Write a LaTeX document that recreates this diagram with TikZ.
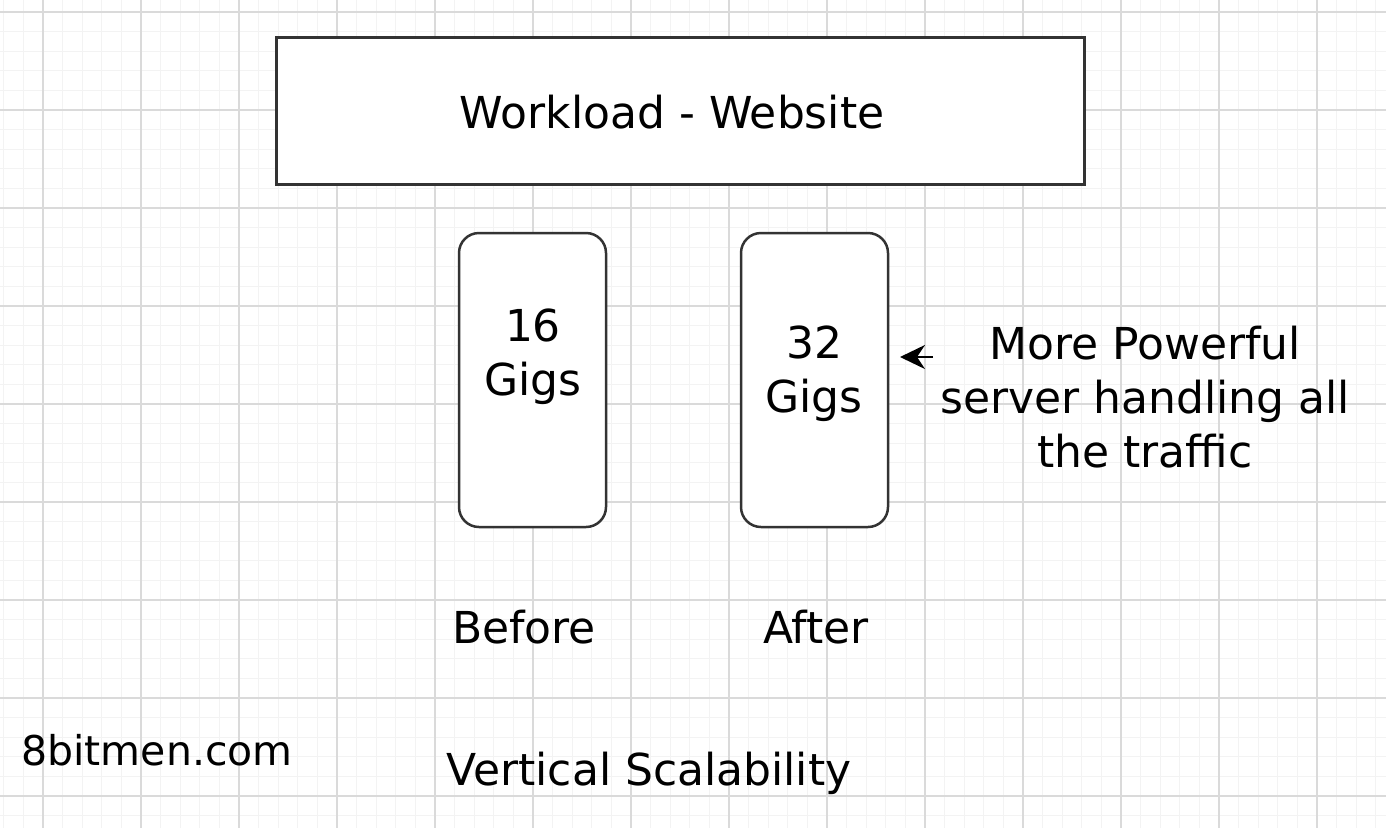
\documentclass[tikz,border=0pt]{standalone}
\usepackage{fontspec}
\setmainfont{DejaVu Sans}
\usetikzlibrary{arrows.meta}
\definecolor{minorgrid}{HTML}{F3F3F3}
\definecolor{majorgrid}{HTML}{DADADA}
\definecolor{boxline}{HTML}{333333}
\tikzset{
  bigbox/.style={draw=boxline, line width=3pt, minimum width=808pt, minimum height=147pt, inner sep=0pt},
  serverbox/.style={draw=boxline, line width=2.5pt, rounded corners=20pt, minimum width=147pt, minimum height=294pt, inner sep=0pt},
  lbl/.style={font=\fontsize{44}{54}\selectfont, text=black, align=center, inner sep=0pt},
  arr/.style={-{Stealth[length=25pt,width=24pt,inset=8pt,fill=black]}, line width=2.5pt, draw=black}
}
\begin{document}
\begin{tikzpicture}[x=1pt,y=-1pt]
\useasboundingbox (0,0) rectangle (1386,828);
\fill[white] (0,0) rectangle (1386,828);
% grid
\foreach \i in {-2,...,70} {
  \draw[minorgrid, line width=1pt] ({43+19.6*\i},0) -- ({43+19.6*\i},828);
}
\foreach \i in {0,...,42} {
  \draw[minorgrid, line width=1pt] (0,{12+19.6*\i}) -- (1386,{12+19.6*\i});
}
\foreach \i in {0,...,14} {
  \draw[majorgrid, line width=1.2pt] ({43+98*\i},0) -- ({43+98*\i},828);
}
\foreach \i in {0,...,8} {
  \draw[majorgrid, line width=1.2pt] (0,{12+98*\i}) -- (1386,{12+98*\i});
}
% nodes
\node[bigbox, fill=white] (work) at (680,110.5) {};
\node[lbl] (worktxt) at (672,112) {Workload - Website};
\node[serverbox, fill=white] (before) at (532.5,380) {};
\node[serverbox, fill=white] (after) at (814.5,380) {};
\node[lbl] (s16) at (533,357) {16\\Gigs};
\node[lbl] (s32) at (814,374) {32\\Gigs};
\node[lbl] (note) at (1145,397) {More Powerful\\server handling all\\the traffic};
\node[lbl] (beforetxt) at (524,627) {Before};
\node[lbl] (aftertxt) at (816,627) {After};
\node[lbl, font=\fontsize{41}{50}\selectfont] (site) at (157,750) {8bitmen.com};
\node[lbl] (title) at (649,773) {Vertical Scalability};
\coordinate (tail) at (933,357);
\coordinate (tip) at (900,357);
\draw[arr] (tail) -- (tip);
\end{tikzpicture}
\end{document}
